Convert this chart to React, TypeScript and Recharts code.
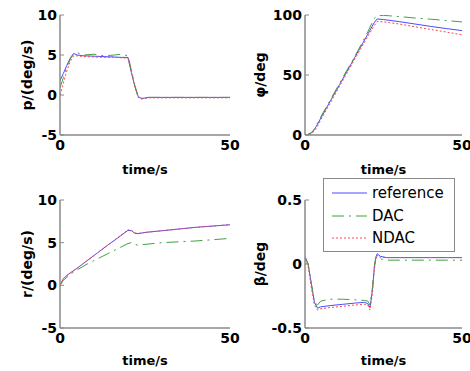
import React from 'react';
import { LineChart, Line, XAxis, YAxis, Legend, Label } from 'recharts';

const FONT = '"DejaVu Sans", sans-serif';
const AXIS_COLOR = '#8a8a8a';

const seriesNames = ['reference', 'DAC', 'NDAC'];
const seriesColors = ['#4b4bff', '#3fa23f', '#ff4848'];
const seriesDashes = [undefined, '12 5 2 5', '2 2'];

const timeTicks = [0, 50];
const pTicks = [-5, 0, 5, 10];
const phiTicks = [0, 50, 100];
const rTicks = [-5, 0, 5, 10];
const betaTicks = [-0.5, 0, 0.5];

// p (deg/s)
const pTime = [0, 1, 2, 3, 4, 5, 7, 10, 13, 16, 18, 20, 21, 22, 23, 24, 26, 30, 35, 40, 45, 50];
const pReference = [1.8, 2.7, 3.7, 4.6, 5.2, 5.0, 4.9, 4.85, 4.8, 4.75, 4.7, 4.7, 2.8, 1.1, -0.2, -0.45, -0.3, -0.3, -0.3, -0.3, -0.3, -0.3];
const pDAC = [0.9, 2.2, 3.5, 4.5, 5.1, 5.3, 5.0, 5.1, 4.9, 5.0, 5.1, 4.9, 3.1, 1.2, -0.2, -0.4, -0.3, -0.3, -0.3, -0.3, -0.3, -0.3];
const pNDAC = [0.0, 1.5, 3.0, 4.2, 4.9, 4.9, 4.8, 4.75, 4.7, 4.7, 4.65, 4.6, 2.9, 1.0, -0.3, -0.5, -0.35, -0.35, -0.35, -0.35, -0.35, -0.35];

// phi (deg)
const phiTime = [0, 1, 2, 3, 4, 5, 8, 11, 14, 17, 20, 22, 23, 25, 30, 35, 40, 45, 50];
const phiReference = [0, 0.5, 1.5, 4.5, 9, 14, 28, 42, 56, 70, 84, 93.5, 96.7, 96.2, 94.5, 92.5, 90.5, 88.7, 87];
const phiDAC = [0, 0.6, 2, 5, 10, 15, 29, 43, 57, 71, 86, 97, 99.5, 99.7, 98.7, 97.5, 96.5, 95.4, 94.2];
const phiNDAC = [0, 0.3, 1, 3.5, 7.5, 12.5, 26.5, 40.5, 54.5, 68.5, 82, 91, 94.5, 94.3, 92.5, 90.2, 88, 85.8, 83.5];

// r (deg/s)
const rTime = [0, 1, 2.5, 3, 5, 8, 11, 14, 17, 20, 21, 22, 23, 25, 30, 35, 40, 45, 50];
const rReference = [0, 0.8, 1.3, 1.45, 2.0, 2.9, 3.8, 4.7, 5.55, 6.45, 6.4, 6.1, 6.05, 6.2, 6.4, 6.6, 6.8, 6.95, 7.1];
const rDAC = [0, 0.6, 1.1, 1.3, 1.8, 2.5, 3.1, 3.7, 4.3, 4.9, 5.0, 4.8, 4.7, 4.8, 5.0, 5.1, 5.2, 5.35, 5.5];
const rNDAC = [0, 0.8, 1.3, 1.45, 2.0, 2.9, 3.8, 4.7, 5.6, 6.5, 6.45, 6.15, 6.1, 6.2, 6.4, 6.6, 6.8, 6.95, 7.1];

// beta (deg)
const betaTime = [0, 1, 2, 3, 4, 5, 8, 12, 16, 19, 20, 20.7, 21.5, 22, 22.5, 23, 24, 26, 30, 35, 40, 45, 50];
const betaReference = [0.06, 0.0, -0.15, -0.3, -0.345, -0.335, -0.325, -0.315, -0.305, -0.3, -0.31, -0.34, -0.2, -0.05, 0.05, 0.08, 0.06, 0.05, 0.05, 0.05, 0.05, 0.05, 0.05];
const betaDAC = [0.05, 0.0, -0.15, -0.3, -0.32, -0.29, -0.275, -0.275, -0.28, -0.285, -0.29, -0.32, -0.18, -0.03, 0.04, 0.06, 0.04, 0.03, 0.03, 0.03, 0.03, 0.03, 0.03];
const betaNDAC = [0.04, -0.02, -0.18, -0.32, -0.36, -0.35, -0.34, -0.33, -0.32, -0.315, -0.32, -0.36, -0.22, -0.06, 0.04, 0.07, 0.05, 0.05, 0.05, 0.05, 0.05, 0.05, 0.05];

function buildRows(time: number[], ref: number[], dac: number[], ndac: number[]) {
  return time.map((t, i) => ({ t, reference: ref[i], DAC: dac[i], NDAC: ndac[i] }));
}

const LeftTick = (props: any) => {
  const { x, y, payload } = props;
  return (
    <g>
      <line x1={x + 3} x2={x + 7} y1={y} y2={y} stroke={AXIS_COLOR} strokeWidth={1} />
      <text x={x} y={y} dy="0.36em" textAnchor="end" fontFamily={FONT} fontWeight="bold" fontSize={14} fill="#000">
        {String(payload.value)}
      </text>
    </g>
  );
};

const RightTick = (props: any) => {
  const { x, y } = props;
  return <line x1={x} x2={x - 4} y1={y} y2={y} stroke={AXIS_COLOR} strokeWidth={1} />;
};

const BottomTick = (props: any) => {
  const { x, y, payload } = props;
  return (
    <text x={x} y={y} dy="0.72em" textAnchor="middle" fontFamily={FONT} fontWeight="bold" fontSize={14} fill="#000">
      {String(payload.value)}
    </text>
  );
};

const makeXLabel = (dy: number) => (props: any) => {
  const vb = props.viewBox || {};
  const cx = vb.x + vb.width / 2;
  const cy = vb.y + dy;
  return (
    <text x={cx} y={cy} textAnchor="middle" dominantBaseline="central" fontFamily={FONT} fontWeight="bold" fontSize={13} fill="#000">
      time/s
    </text>
  );
};

const makeYLabel = (text: string, dx: number) => (props: any) => {
  const vb = props.viewBox || {};
  const cx = vb.x + dx;
  const cy = vb.y + vb.height / 2;
  return (
    <text x={cx} y={cy} transform={`rotate(-90 ${cx} ${cy})`} textAnchor="middle" dominantBaseline="central" fontFamily={FONT} fontWeight="bold" fontSize={14} fill="#000">
      {text}
    </text>
  );
};

const LegendBox = () => {
  const rowsY = [15, 38, 60];
  return (
    <svg width={132} height={74} style={{ display: 'block' }}>
      <rect x={0.5} y={0.5} width={131} height={73} fill="#fff" stroke={AXIS_COLOR} strokeWidth={1} />
      {seriesNames.map((name, i) => (
        <g key={name}>
          <line x1={9} x2={44} y1={rowsY[i]} y2={rowsY[i]} stroke={seriesColors[i]} strokeWidth={1} strokeDasharray={seriesDashes[i]} />
          <text x={49} y={rowsY[i]} dominantBaseline="central" fontFamily={FONT} fontSize={15} fill="#000">
            {name}
          </text>
        </g>
      ))}
    </svg>
  );
};

type PanelProps = {
  rows: any[];
  yTicks: number[];
  yLabel: string;
  left: number;
  top: number;
  width: number;
  height: number;
  margin: { top: number; right: number; bottom: number; left: number };
  yAxisWidth: number;
  xAxisHeight: number;
  yLabelDx: number;
  xLabelDy: number;
  legend?: boolean;
};

function Panel(p: PanelProps) {
  const domain: [number, number] = [p.yTicks[0], p.yTicks[p.yTicks.length - 1]];
  return (
    <div style={{ position: 'absolute', left: p.left, top: p.top }}>
      <LineChart width={p.width} height={p.height} data={p.rows} margin={p.margin}>
        <XAxis
          dataKey="t"
          type="number"
          domain={[0, 50]}
          ticks={timeTicks}
          allowDataOverflow
          height={p.xAxisHeight}
          tickSize={0}
          tickMargin={5}
          tick={BottomTick}
          stroke={AXIS_COLOR}
          axisLine={{ stroke: AXIS_COLOR, strokeWidth: 1.5 }}
          interval={0}
        >
          <Label content={makeXLabel(p.xLabelDy)} />
        </XAxis>
        <XAxis
          xAxisId="top"
          orientation="top"
          dataKey="t"
          type="number"
          domain={[0, 50]}
          ticks={timeTicks}
          allowDataOverflow
          height={0}
          tick={false}
          tickSize={0}
          axisLine={{ stroke: AXIS_COLOR, strokeWidth: 1.5 }}
        />
        <YAxis
          type="number"
          domain={domain}
          ticks={p.yTicks}
          allowDataOverflow
          width={p.yAxisWidth}
          tickSize={0}
          tickMargin={3}
          tick={LeftTick}
          interval={0}
          axisLine={{ stroke: AXIS_COLOR, strokeWidth: 1.5 }}
        >
          <Label content={makeYLabel(p.yLabel, p.yLabelDx)} />
        </YAxis>
        <YAxis
          yAxisId="right"
          orientation="right"
          type="number"
          domain={domain}
          ticks={p.yTicks}
          allowDataOverflow
          width={0}
          tickSize={0}
          tickMargin={0}
          tick={RightTick}
          interval={0}
          axisLine={{ stroke: AXIS_COLOR, strokeWidth: 1.5 }}
        />
        {seriesNames.map((name, i) => (
          <Line
            key={name}
            dataKey={name}
            type="linear"
            stroke={seriesColors[i]}
            strokeWidth={1}
            strokeDasharray={seriesDashes[i]}
            dot={false}
            activeDot={false}
            isAnimationActive={false}
          />
        ))}
        {p.legend ? (
          <Legend
            layout="horizontal"
            verticalAlign="middle"
            align="center"
            content={LegendBox}
            wrapperStyle={{ position: 'absolute', left: 88, top: 13, width: 132, height: 74 }}
          />
        ) : null}
      </LineChart>
    </div>
  );
}

export default function App() {
  const pRows = buildRows(pTime, pReference, pDAC, pNDAC);
  const phiRows = buildRows(phiTime, phiReference, phiDAC, phiNDAC);
  const rRows = buildRows(rTime, rReference, rDAC, rNDAC);
  const betaRows = buildRows(betaTime, betaReference, betaDAC, betaNDAC);
  return (
    <div style={{ position: 'absolute', left: 0, top: 0, width: 470, height: 371, background: '#fff', overflow: 'hidden' }}>
      <Panel rows={pRows} yTicks={pTicks} yLabel="p/(deg/s)" left={0} top={0} width={250} height={185}
        margin={{ top: 15, right: 20, bottom: 0, left: 0 }} yAxisWidth={60} xAxisHeight={50} yLabelDx={27} xLabelDy={34} />
      <Panel rows={phiRows} yTicks={phiTicks} yLabel="φ/deg" left={235} top={0} width={235} height={185}
        margin={{ top: 15, right: 8, bottom: 0, left: 0 }} yAxisWidth={70} xAxisHeight={50} yLabelDx={25} xLabelDy={34} />
      <Panel rows={rRows} yTicks={rTicks} yLabel="r/(deg/s)" left={0} top={185} width={250} height={186}
        margin={{ top: 15, right: 20, bottom: 0, left: 0 }} yAxisWidth={60} xAxisHeight={43} yLabelDx={27} xLabelDy={32} />
      <Panel rows={betaRows} yTicks={betaTicks} yLabel="β/deg" left={235} top={165} width={235} height={206}
        margin={{ top: 35, right: 8, bottom: 0, left: 0 }} yAxisWidth={70} xAxisHeight={43} yLabelDx={25} xLabelDy={32} legend />
    </div>
  );
}
